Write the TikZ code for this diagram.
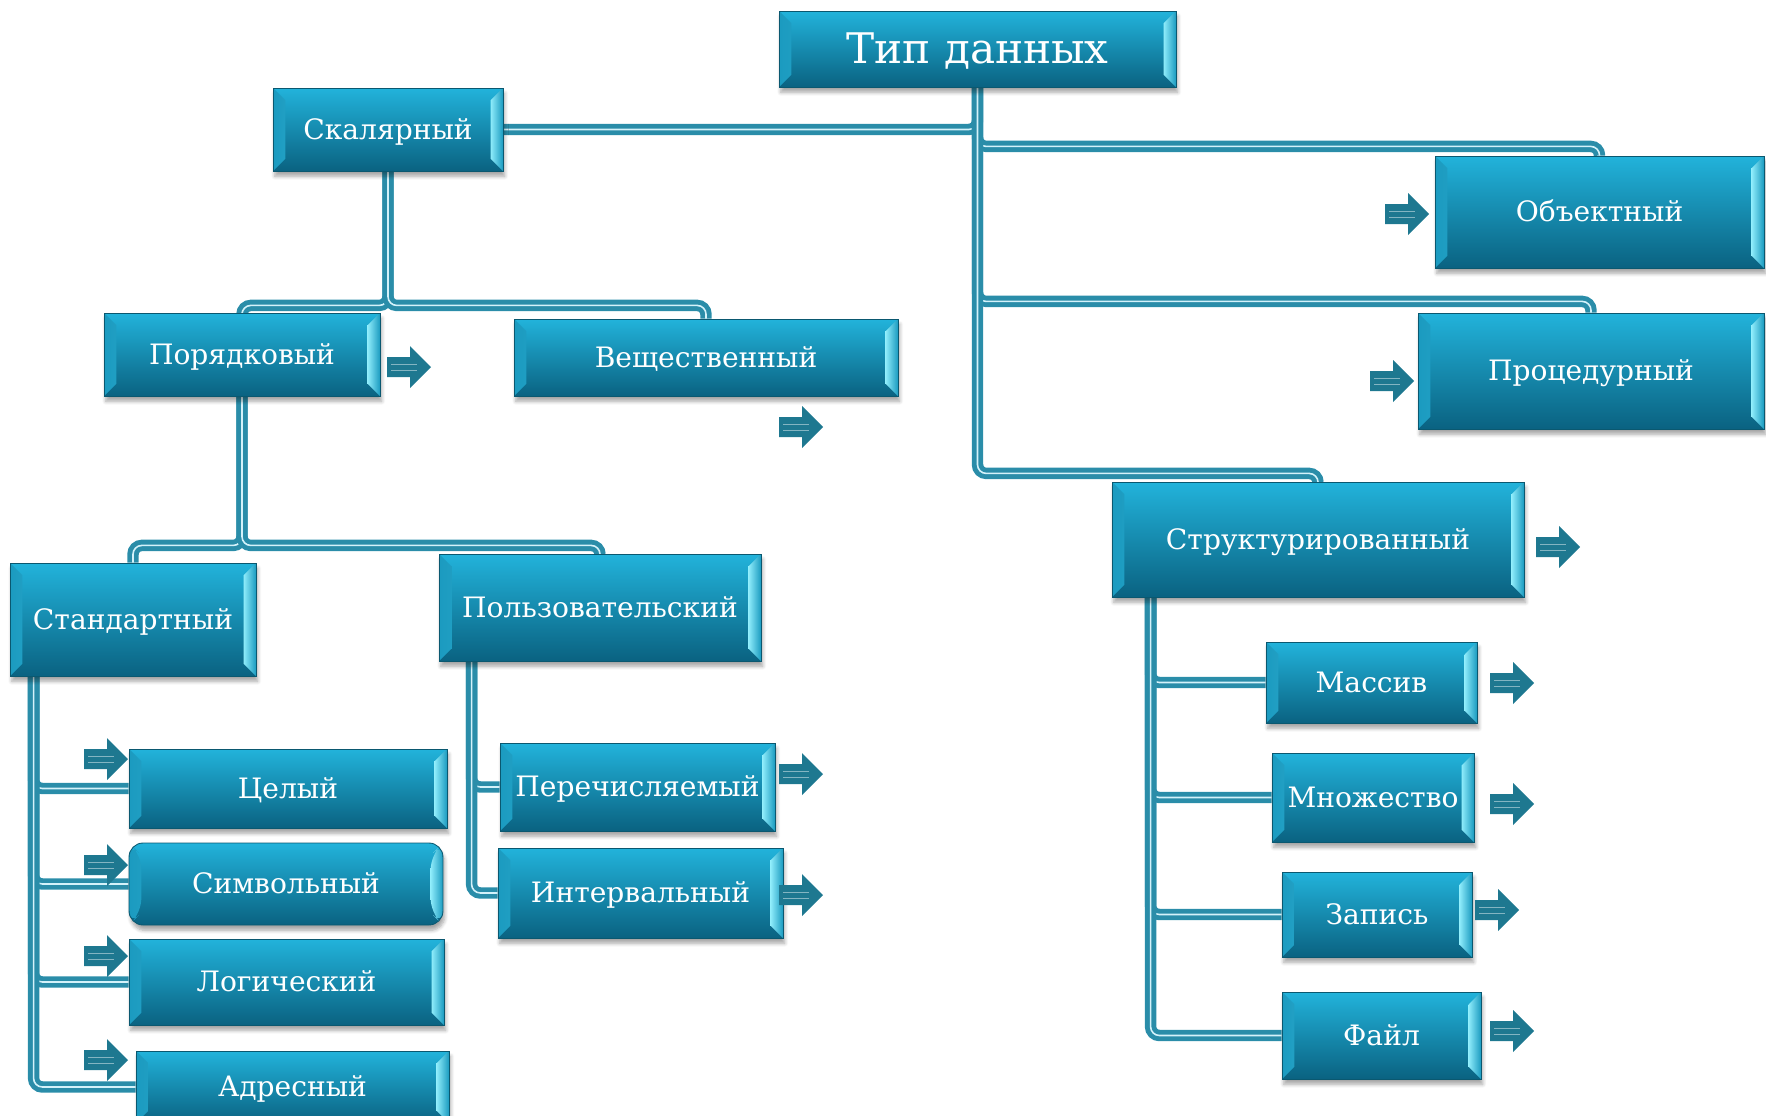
\documentclass[tikz,border=0pt]{standalone}
\usepackage{fontspec}
\setmainfont{DejaVu Serif}
\usetikzlibrary{calc,backgrounds,shadows.blur}
\definecolor{boxtop}{HTML}{22B3DB}
\definecolor{boxbot}{HTML}{0A6281}
\definecolor{boxedge}{HTML}{0A5870}
\definecolor{bevl}{HTML}{8DEBFA}
\definecolor{lnk}{HTML}{2A8DA9}
\definecolor{lnkin}{HTML}{D4F2FA}
\definecolor{arrc}{HTML}{1E7890}
\tikzset{
  tbox/.style={rectangle, draw=boxedge, line width=0.5pt, top color=boxtop, bottom color=boxbot,
    text=white, font=\fontsize{16}{19}\selectfont, inner sep=0pt, text height=14.5pt, text depth=3.2pt,
    blur shadow={shadow xshift=1pt, shadow yshift=-3pt, shadow blur steps=6, shadow opacity=35},
    path picture={
      \shade[left color=boxtop!70!boxbot, right color=bevl]
        (path picture bounding box.north west) -- ([xshift=7pt,yshift=-7pt]path picture bounding box.north west)
        -- ([xshift=7pt,yshift=7pt]path picture bounding box.south west) -- (path picture bounding box.south west) -- cycle;
      \shade[left color=bevl, right color=boxtop!70!boxbot]
        (path picture bounding box.north east) -- ([xshift=-7pt,yshift=-7pt]path picture bounding box.north east)
        -- ([xshift=-7pt,yshift=7pt]path picture bounding box.south east) -- (path picture bounding box.south east) -- cycle;
    }},
  tbig/.style={tbox, font=\fontsize{24}{28}\selectfont, text height=21.7pt, text depth=4.8pt},
  % ---- double connectors ----
  conn/.style={draw=lnk, line width=2.8pt, double=lnkin, double distance=0.9pt, rounded corners=5pt},
  vtree/.style={conn, to path={(\tikztostart) -- ($(\tikztostart)+(0,#1)$) -| (\tikztotarget)}},
  side/.style={conn, to path={($(\tikztostart)+(#1,0)$) |- (\tikztotarget)}},
  % ---- block arrow ----
  barr/.pic={
    \fill[arrc] (0,-10) -- (23,-10) -- (23,-21) -- (44,0) -- (23,21) -- (23,10) -- (0,10) -- cycle;
    \draw[arrc!55!white, line width=0.4pt] (4,-3) -- (30,-3) (4,3) -- (30,3);
  },
}

\begin{document}
\begin{tikzpicture}[x=0.02cm, y=-0.02cm]
\useasboundingbox (0,0) rectangle (1766,1116);
% level 0
\node[tbig, minimum width=7.94cm, minimum height=1.52cm] (tip) at (977.5,49) {Тип данных};
% level 1
\node[tbox, minimum width=4.60cm, minimum height=1.66cm] (skal) at (388,129.5) {Скалярный};
\node[tbox, minimum width=6.58cm, minimum height=2.24cm] (obj) at (1599.5,212) {Объектный};
\node[tbox, minimum width=6.92cm, minimum height=2.32cm] (proc) at (1591,371) {Процедурный};
\node[tbox, minimum width=8.24cm, minimum height=2.30cm] (struct) at (1318,539.5) {Структурированный};
% level 2
\node[tbox, minimum width=5.52cm, minimum height=1.66cm] (por) at (242,354.5) {Порядковый};
\node[tbox, minimum width=7.68cm, minimum height=1.54cm] (vesh) at (706,357.5) {Вещественный};
\node[tbox, minimum width=4.22cm, minimum height=1.62cm] (mass) at (1371.5,682.5) {Массив};
\node[tbox, minimum width=4.04cm, minimum height=1.78cm] (mnoz) at (1373,797.5) {Множество};
\node[tbox, minimum width=3.80cm, minimum height=1.70cm] (zap) at (1377,914.5) {Запись};
\node[tbox, minimum width=3.98cm, minimum height=1.74cm] (fajl) at (1381.5,1035.5) {Файл};
% level 3
\node[tbox, minimum width=4.92cm, minimum height=2.26cm] (std) at (133,619.5) {Стандартный};
\node[tbox, minimum width=6.44cm, minimum height=2.14cm] (polz) at (600,607.5) {Пользовательский};
% level 4
\node[tbox, minimum width=5.50cm, minimum height=1.76cm] (perech) at (637.5,787) {Перечисляемый};
\node[tbox, minimum width=5.70cm, minimum height=1.80cm] (interv) at (640.5,893) {Интервальный};
\node[tbox, minimum width=6.36cm, minimum height=1.58cm] (cel) at (288,788.5) {Целый};
\node[tbox, rounded corners=8pt, minimum width=6.28cm, minimum height=1.64cm] (simv) at (286,884) {Символьный};
\node[tbox, minimum width=6.30cm, minimum height=1.72cm] (log) at (286.5,982) {Логический};
\node[tbox, minimum width=6.26cm, minimum height=1.44cm] (adr) at (292.5,1087) {Адресный};
% connectors
\begin{scope}[on background layer]
  \draw[conn] (tip.south) |- (skal.east);
  \draw[vtree=59] (tip.south) to (obj.north);
  \draw[vtree=214] (tip.south) to (proc.north);
  \draw[vtree=386] (tip.south) to (struct.north);
  \draw[vtree=134] (skal.south) to (por.north);
  \draw[vtree=134] (skal.south) to (vesh.north);
  \draw[vtree=149] (por.south) to (std.north);
  \draw[vtree=149] (por.south) to (polz.north);
  \foreach \c in {cel,simv,log,adr}{ \draw[side=24] (std.south west) to (\c.west); }
  \foreach \c in {perech,interv}{ \draw[side=33] (polz.south west) to (\c.west); }
  \foreach \c in {mass,mnoz,zap,fajl}{ \draw[side=39] (struct.south west) to (\c.west); }
\end{scope}
% arrows
\pic (a-por) at (387,367) {barr};
\pic (a-vesh) at (779,427) {barr};
\pic (a-obj) at (1385,214) {barr};
\pic (a-proc) at (1370,381) {barr};
\pic (a-struct) at (1536,547) {barr};
\pic (a-mass) at (1490,683) {barr};
\pic (a-mnoz) at (1490,804) {barr};
\pic (a-zap) at (1475,910) {barr};
\pic (a-fajl) at (1490,1031) {barr};
\pic (a-perech) at (779,774) {barr};
\pic (a-interv) at (779,895) {barr};
\foreach \n/\y in {cel/759,simv/865,log/956,adr/1060}{ \pic (a-\n) at (84,\y) {barr}; }
\end{tikzpicture}
\end{document}
